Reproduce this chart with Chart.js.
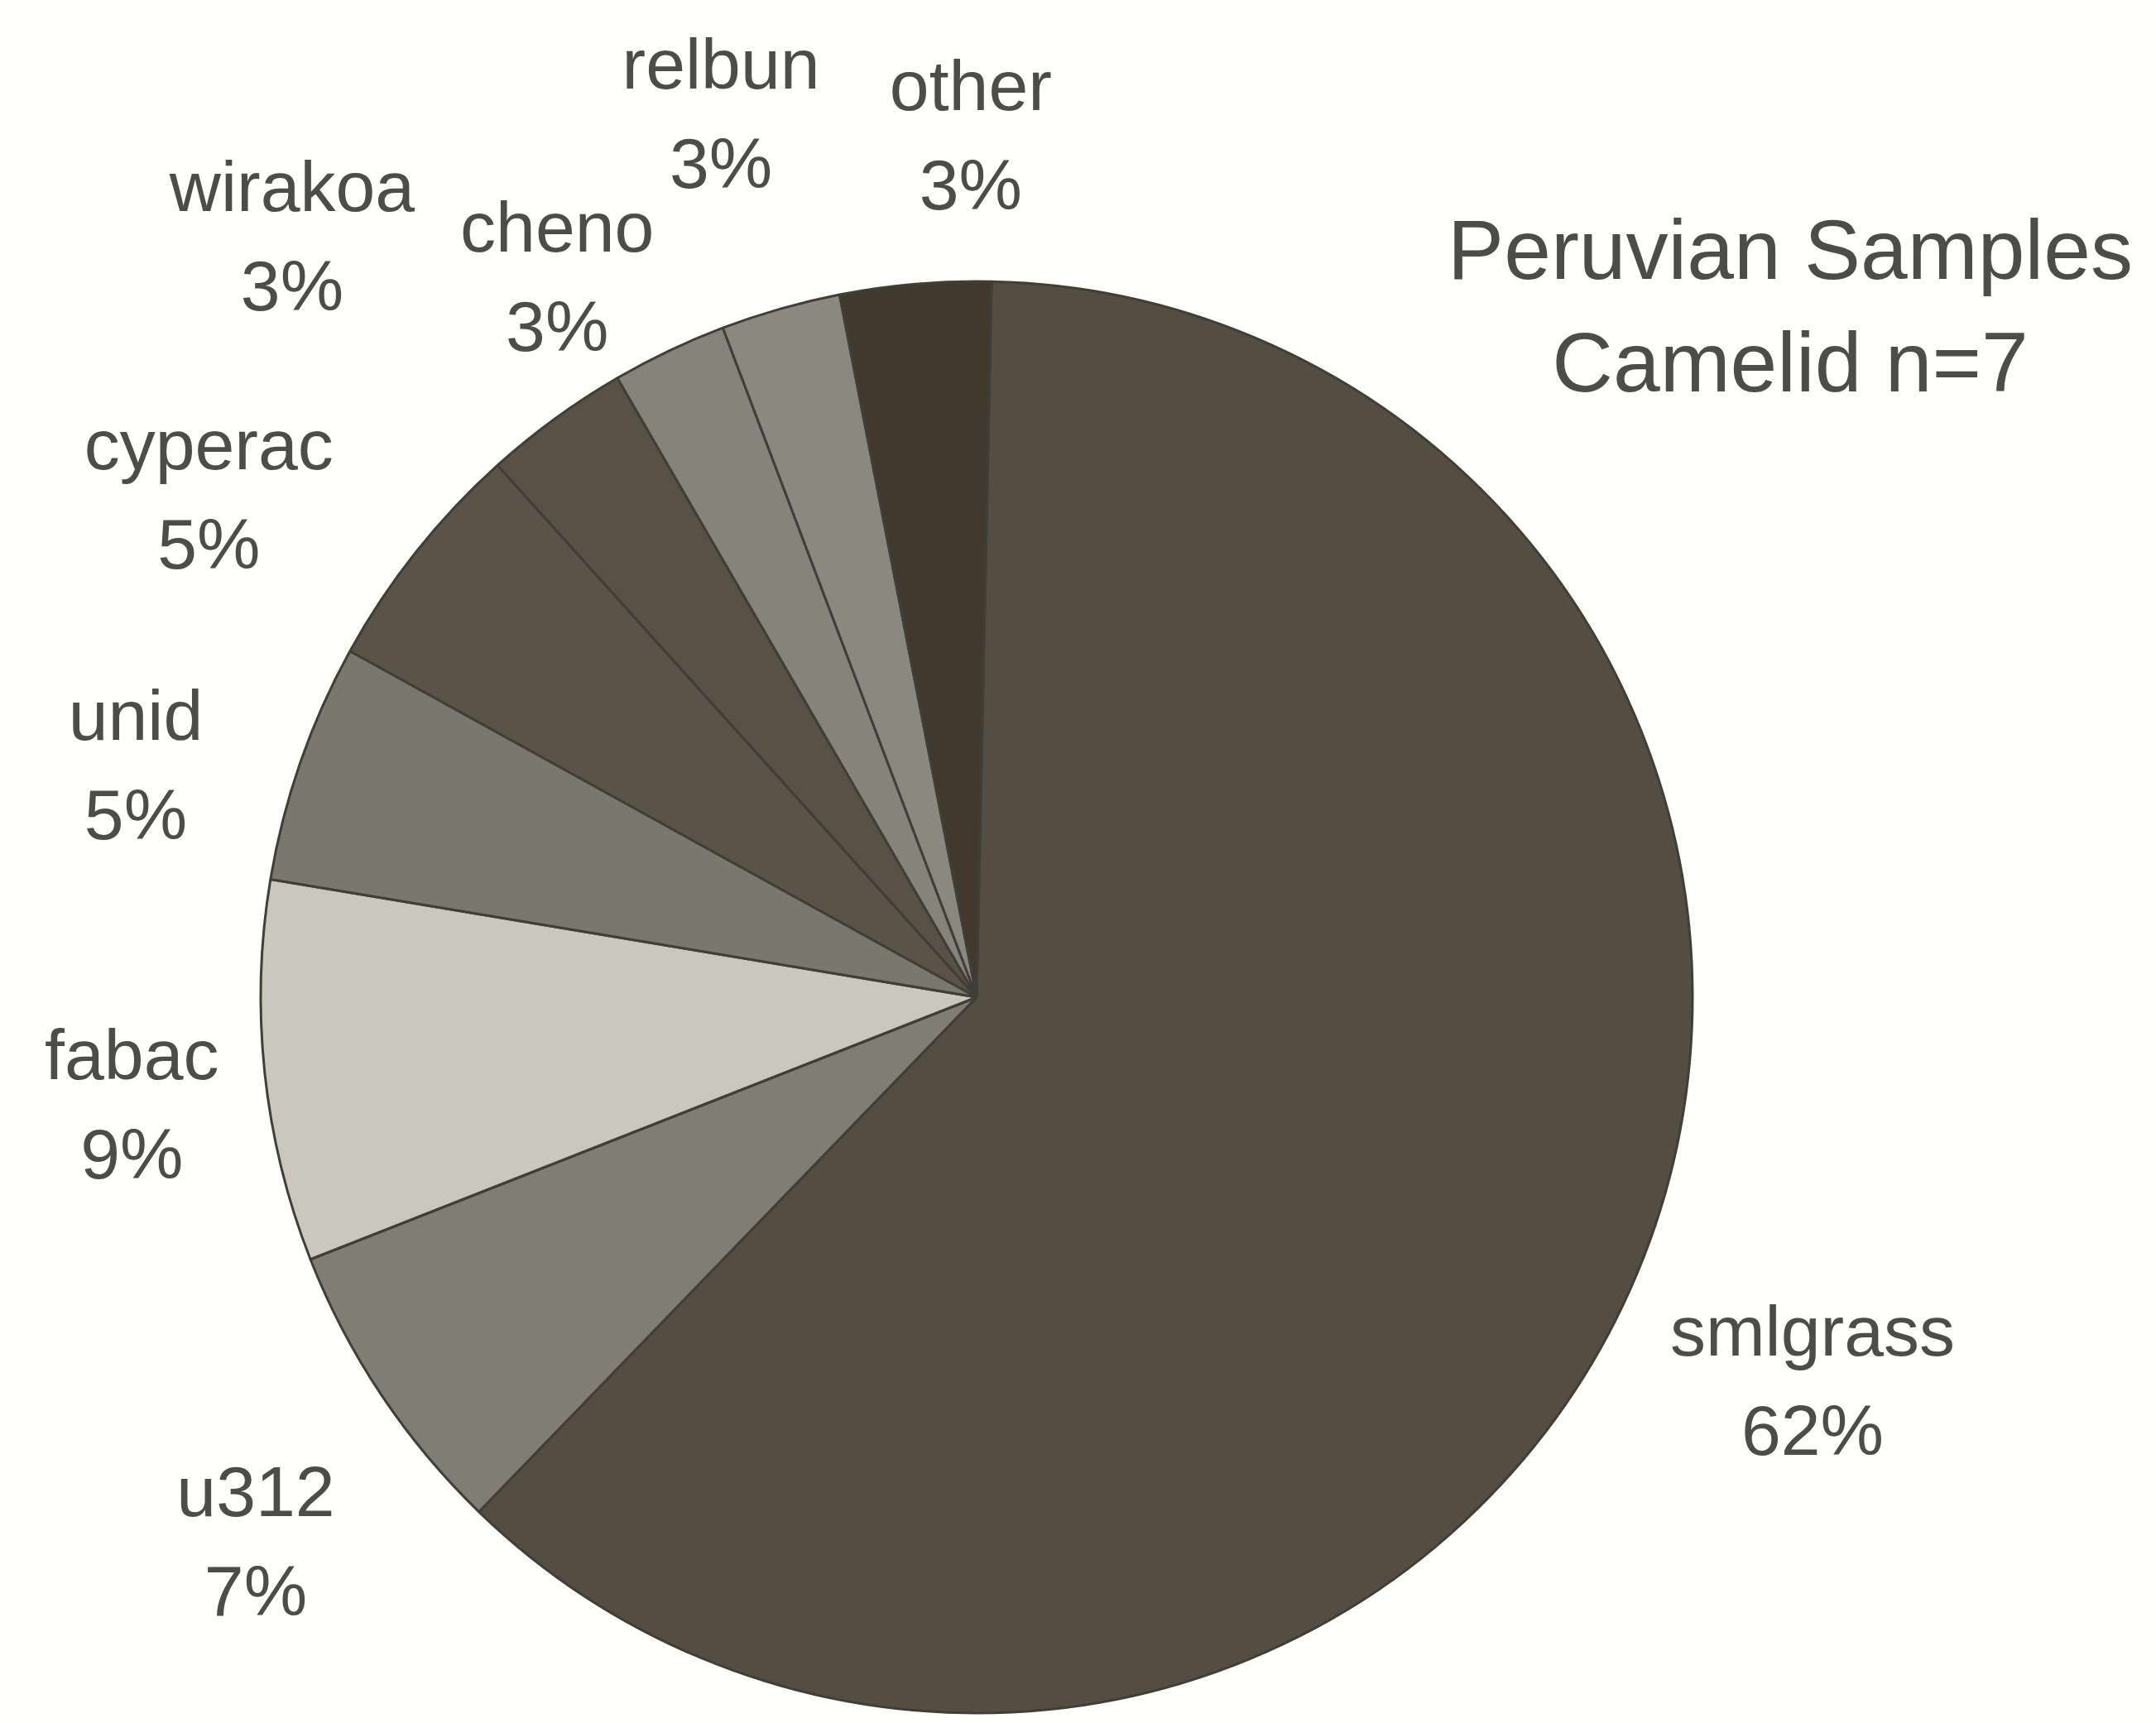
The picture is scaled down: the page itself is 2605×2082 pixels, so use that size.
<!DOCTYPE html>
<html>
<head>
<meta charset="utf-8">
<title>Peruvian Samples - Camelid</title>
<script src="https://cdn.jsdelivr.net/npm/chart.js@4.4.1/dist/chart.umd.min.js"></script>
<style>
    html, body { margin: 0; padding: 0; background: #fefefb; }
    canvas { display: block; }
</style>
</head>
<body>
<canvas id="piechart" width="2605" height="2082"></canvas>
<script>
// data (clockwise from the top)
var categories = ['smlgrass', 'u312', 'fabac', 'unid', 'cyperac', 'wirakoa', 'cheno', 'relbun', 'other'];
var shares = [61.9, 6.8, 8.6, 5.4, 5.3, 3.3, 2.6, 2.7, 3.4];
var titleLines = ['Peruvian Samples', 'Camelid n=7'];

// slice fills, greys as in the printed figure
var sliceColors = ['#564d42', '#807d73', '#c9c8bd', '#7a776d', '#5c5348', '#595046', '#86837a', '#8b887f', '#41392d'];

// hand moves of the data labels away from their default outside spot
var labelNudge = [[25, 89], [-47, 114], [-26, 32], [-94, 51], [-109, 14], [-213, -113], [-72, 29], [-31, -110], [78, -49]];

var textColor = '#4d4d47';
var labelFont = '86px "Liberation Sans", Arial, sans-serif';

var outsideLabels = {
    id: 'outsideLabels',
    afterDatasetsDraw: function(chart) {
        var ctx = chart.ctx;
        var meta = chart.getDatasetMeta(0);
        var values = chart.data.datasets[0].data;
        var total = values.reduce(function(a, b) { return a + b; }, 0);
        ctx.save();
        ctx.font = labelFont;
        ctx.fillStyle = textColor;
        ctx.textAlign = 'center';
        ctx.textBaseline = 'middle';
        meta.data.forEach(function(arc, i) {
            var p = arc.getProps(['x', 'y', 'startAngle', 'endAngle', 'outerRadius'], true);
            var mid = (p.startAngle + p.endAngle) / 2;
            var dx = Math.cos(mid), dy = Math.sin(mid);
            var name = chart.data.labels[i];
            var pct = Math.round(values[i] / total * 100) + '%';
            var w = Math.max(ctx.measureText(name).width, ctx.measureText(pct).width);
            var r = p.outerRadius + 30;
            var cx = p.x + dx * r + dx * w / 2 + labelNudge[i][0];
            var cy = p.y + dy * r + dy * 95 + labelNudge[i][1];
            ctx.fillText(name, cx, cy - 60);
            ctx.fillText(pct, cx, cy + 60);
        });
        ctx.restore();
    }
};

var cornerTitle = {
    id: 'cornerTitle',
    afterDraw: function(chart) {
        var ctx = chart.ctx;
        ctx.save();
        ctx.font = '102px "Liberation Sans", Arial, sans-serif';
        ctx.fillStyle = textColor;
        ctx.textAlign = 'center';
        ctx.textBaseline = 'alphabetic';
        ctx.fillText(titleLines[0], 2163, 337);
        ctx.fillText(titleLines[1], 2163, 473);
        ctx.restore();
    }
};

var chart1 = document.getElementById('piechart');

var myChart1 = new Chart(chart1, {
type: 'pie',
data: {
    labels: categories,
    datasets: [{
        data: shares,
        backgroundColor: sliceColors,
        borderColor: '#3f3e38',
        borderWidth: 3,
        radius: 865
    }]
},
options: {
    responsive: false,
    animation: false,
    rotation: 1.2,
    layout: {
        padding: { left: 0, right: 245, top: 328, bottom: 0 }
    },
    plugins: {
        legend: { display: false },
        tooltip: { enabled: false },
        title: { display: false }
    }
},
plugins: [outsideLabels, cornerTitle]
});
</script>
</body>
</html>
